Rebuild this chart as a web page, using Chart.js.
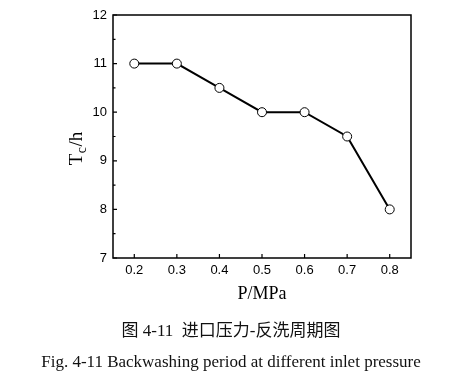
<!DOCTYPE html>
<html>
<head>
<meta charset="utf-8">
<script src="https://cdn.jsdelivr.net/npm/chart.js@4.4.0/dist/chart.umd.min.js"></script>
<style>
  html, body { margin:0; padding:0; background:#fff; }
  #wrap { position:relative; width:469px; height:380px; }
  canvas { position:absolute; left:0; top:0; }
  .cap { position:absolute; left:0; width:462px; text-align:center; color:#111; white-space:pre; }
  #cn { top:316px; font: 17px "Liberation Serif", "Noto Sans CJK SC", serif; }
  #en { top:352px; font: 17px "Liberation Serif", "Times New Roman", serif; }
</style>
</head>
<body>
<div id="wrap">
  <canvas id="c" width="469" height="380"></canvas>
  <div class="cap" id="cn">图 4-11  进口压力-反洗周期图</div>
  <div class="cap" id="en">Fig. 4-11 Backwashing period at different inlet pressure</div>
</div>
<script>
const pressure = [0.2, 0.3, 0.4, 0.5, 0.6, 0.7, 0.8];
const period = [11, 11, 10.5, 10, 10, 9.5, 8];
const xTicks = [0.2, 0.3, 0.4, 0.5, 0.6, 0.7, 0.8];
const yTicks = [7, 8, 9, 10, 11, 12];
const yMinorTicks = [7.5, 8.5, 9.5, 10.5, 11.5];

const framePlugin = {
  id: 'frame',
  afterDraw(chart) {
    const ctx = chart.ctx, a = chart.chartArea;
    const xs = chart.scales.x, ys = chart.scales.y;
    ctx.save();
    ctx.strokeStyle = '#000';
    ctx.lineWidth = 1.5;
    ctx.strokeRect(a.left, a.top, a.right - a.left, a.bottom - a.top);
    ctx.lineWidth = 1.2;
    ctx.beginPath();
    yTicks.forEach(v => { const y = ys.getPixelForValue(v); ctx.moveTo(a.left, y); ctx.lineTo(a.left + 4, y); });
    yMinorTicks.forEach(v => { const y = ys.getPixelForValue(v); ctx.moveTo(a.left, y); ctx.lineTo(a.left + 2.5, y); });
    xTicks.forEach(v => { const x = xs.getPixelForValue(v); ctx.moveTo(x, a.bottom); ctx.lineTo(x, a.bottom - 4); });
    ctx.stroke();
    // x title
    ctx.fillStyle = '#000';
    ctx.font = '18px "Liberation Serif", serif';
    ctx.textAlign = 'center';
    ctx.textBaseline = 'alphabetic';
    ctx.fillText('P/MPa', (a.left + a.right) / 2, 299);
    // y title with subscript
    ctx.translate(82, 149);
    ctx.rotate(-Math.PI / 2);
    ctx.textAlign = 'left';
    const big = '19px "Liberation Serif", serif', small = '14px "Liberation Serif", serif';
    ctx.font = big; const wT = ctx.measureText('T').width; const wH = ctx.measureText('/h').width;
    ctx.font = small; const wc = ctx.measureText('c').width;
    let x0 = -(wT + wc + wH) / 2;
    ctx.font = big; ctx.fillText('T', x0, 0);
    ctx.font = small; ctx.fillText('c', x0 + wT + 0.5, 4);
    ctx.font = big; ctx.fillText('/h', x0 + wT + wc + 1, 0);
    ctx.restore();
  }
};

new Chart(document.getElementById('c'), {
  type: 'line',
  data: {
    datasets: [{
      data: pressure.map((p, i) => ({ x: p, y: period[i] })),
      borderColor: '#000',
      borderWidth: 2,
      pointRadius: 4.5,
      pointBackgroundColor: '#fff',
      pointBorderColor: '#000',
      pointBorderWidth: 1,
      tension: 0
    }]
  },
  options: {
    responsive: false,
    animation: false,
    devicePixelRatio: 1,
    layout: { padding: { top: 15, right: 58, bottom: 0, left: 0 } },
    plugins: { legend: { display: false }, tooltip: { enabled: false } },
    scales: {
      x: {
        type: 'linear', min: 0.15, max: 0.85,
        afterBuildTicks(s) { s.ticks = xTicks.map(v => ({ value: v })); },
        afterFit(s) { s.height = 122; },
        grid: { display: false, drawTicks: false },
        border: { display: false },
        ticks: { color: '#000', padding: 5, font: { family: '"Liberation Sans", Arial, sans-serif', size: 13 }, callback: v => v.toFixed(1), maxRotation: 0 }
      },
      y: {
        type: 'linear', min: 7, max: 12,
        afterBuildTicks(s) { s.ticks = yTicks.map(v => ({ value: v })); },
        afterFit(s) { s.width = 113; },
        grid: { display: false, drawTicks: false },
        border: { display: false },
        ticks: { color: '#000', padding: 6, font: { family: '"Liberation Sans", Arial, sans-serif', size: 13 }, callback: v => String(v) }
      }
    }
  },
  plugins: [framePlugin]
});
</script>
</body>
</html>
